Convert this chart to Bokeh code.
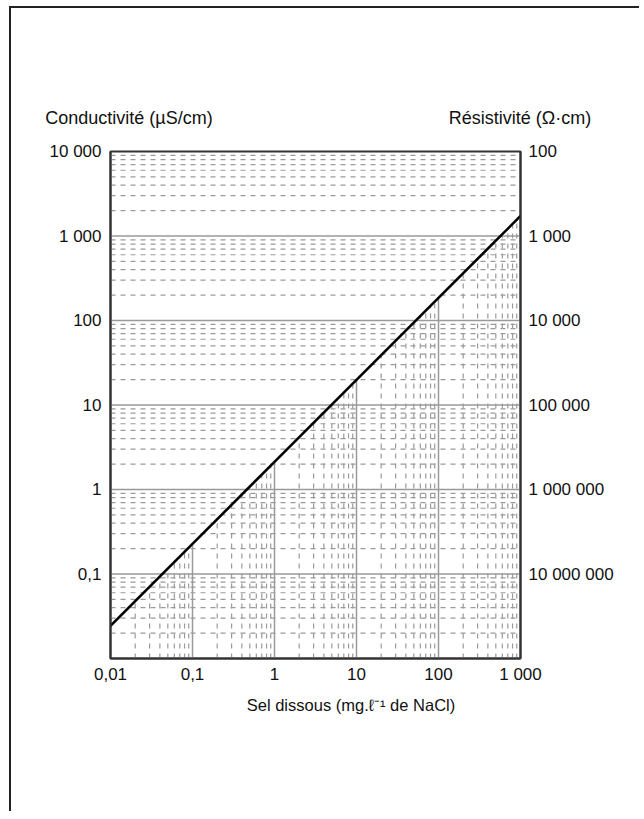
import numpy as np
from bokeh.plotting import figure
from bokeh.models import FixedTicker, LogAxis, LinearAxis, Range1d, LinearScale
from bokeh.embed import file_html
from bokeh.resources import INLINE

# ---- data ----
salt = [0.01, 0.1, 1, 10, 100, 1000]                 # mg/l NaCl
conductivity = [0.0243, 0.227, 2.12, 19.8, 185, 1725]  # µS/cm

x_ticks = [0.01, 0.1, 1, 10, 100, 1000]
x_tick_labels = ["0,01", "0,1", "1", "10", "100", "1 000"]
y_ticks = [0.1, 1, 10, 100, 1000, 10000]
y_tick_labels = ["0,1", "1", "10", "100", "1 000", "10 000"]
res_tick_labels = ["10 000 000", "1 000 000", "100 000", "10 000", "1 000", "100"]

title_left = "Conductivité (µS/cm)"
title_right = "Résistivité (Ω·cm)"
title_x = "Sel dissous (mg.ℓ⁻¹ de NaCl)"

x_min, x_max = 0.01, 1000
y_min, y_max = 0.01, 10000

FONT = "Liberation Sans"
FS = "17px"
GRID = "#9a9a9a"
INK = "#111"

p = figure(width=630, height=805, x_axis_type="log", y_axis_type="log",
           x_range=(x_min, x_max), y_range=(y_min, y_max),
           output_backend="svg", toolbar_location=None,
           min_border_left=99, min_border_right=121,
           min_border_top=143, min_border_bottom=155)
p.styles = {"border-top": "2px solid #222", "border-left": "2px solid #222",
            "margin-top": "6px", "margin-left": "9px"}
p.xgrid.visible = False
p.ygrid.visible = False
p.outline_line_color = "#333"
p.outline_line_width = 2

# helper linear range across the frame, used only to place title texts
p.extra_x_ranges = {"px": Range1d(110, 520)}
p.extra_x_scales = {"px": LinearScale()}

# ---- horizontal grid lines (full width) ----
hmaj, hmin = [], []
for d in range(int(np.log10(y_min)), int(np.log10(y_max))):
    for k in range(1, 10):
        v = k * 10.0 ** d
        (hmaj if k == 1 else hmin).append(v)
p.segment(x0=[x_min] * len(hmin), x1=[x_max] * len(hmin), y0=hmin, y1=hmin,
          line_color=GRID, line_width=1.2, line_dash="5 5")
p.segment(x0=[x_min] * len(hmaj), x1=[x_max] * len(hmaj), y0=hmaj, y1=hmaj,
          line_color=GRID, line_width=1.5)

# ---- vertical grid lines (only below the curve) ----
lx = np.log10(salt)
ly = np.log10(conductivity)
vmaj, vmin = [], []
for d in range(int(np.log10(x_min)), int(np.log10(x_max))):
    for k in range(1, 10):
        v = k * 10.0 ** d
        if v <= x_min:
            continue
        (vmaj if k == 1 else vmin).append(v)

def top_of(vs):
    return [10 ** np.interp(np.log10(v), lx, ly) for v in vs]

p.segment(x0=vmin, x1=vmin, y0=[y_min] * len(vmin), y1=top_of(vmin),
          line_color=GRID, line_width=1.2, line_dash="5 5")
p.segment(x0=vmaj, x1=vmaj, y0=[y_min] * len(vmaj), y1=top_of(vmaj),
          line_color=GRID, line_width=1.5)

# ---- the curve ----
p.line(salt, conductivity, line_color="black", line_width=2.6)

# ---- axes ----
def style(ax, standoff=8, size=FS):
    ax.major_tick_line_color = None
    ax.minor_tick_line_color = None
    ax.major_tick_out = 0
    ax.major_tick_in = 0
    ax.minor_tick_out = 0
    ax.minor_tick_in = 0
    ax.major_label_text_font = FONT
    ax.major_label_text_font_size = size
    ax.major_label_text_color = INK
    ax.major_label_standoff = standoff

style(p.xaxis[0], standoff=6)
style(p.yaxis[0], standoff=9)
for ax in (p.xaxis[0], p.yaxis[0]):
    ax.axis_line_color = "#333"
    ax.axis_line_width = 2

p.xaxis.ticker = FixedTicker(ticks=x_ticks)
p.xaxis.major_label_overrides = dict(zip(x_ticks, x_tick_labels))
p.yaxis.ticker = FixedTicker(ticks=y_ticks)
p.yaxis.major_label_overrides = dict(zip(y_ticks, y_tick_labels))

right = LogAxis(ticker=FixedTicker(ticks=y_ticks),
                major_label_overrides=dict(zip(y_ticks, res_tick_labels)))
style(right, standoff=8)
right.axis_line_color = "#333"
right.axis_line_width = 2
p.add_layout(right, "right")

# ---- titles, drawn as tick labels on helper axes ----
top_pos = [128.5, 519.5]
top_ax = LinearAxis(x_range_name="px", ticker=FixedTicker(ticks=top_pos),
                    major_label_overrides=dict(zip(top_pos, [title_left, title_right])))
style(top_ax, standoff=24, size="18px")
top_ax.axis_line_color = None
p.add_layout(top_ax, "above")

bot_pos = [350.5]
bot_ax = LinearAxis(x_range_name="px", ticker=FixedTicker(ticks=bot_pos),
                    major_label_overrides=dict(zip(bot_pos, [title_x])))
style(bot_ax, standoff=9, size="16.5px")
bot_ax.axis_line_color = None
p.add_layout(bot_ax, "below")

open("out.html", "w").write(file_html(p, INLINE))
